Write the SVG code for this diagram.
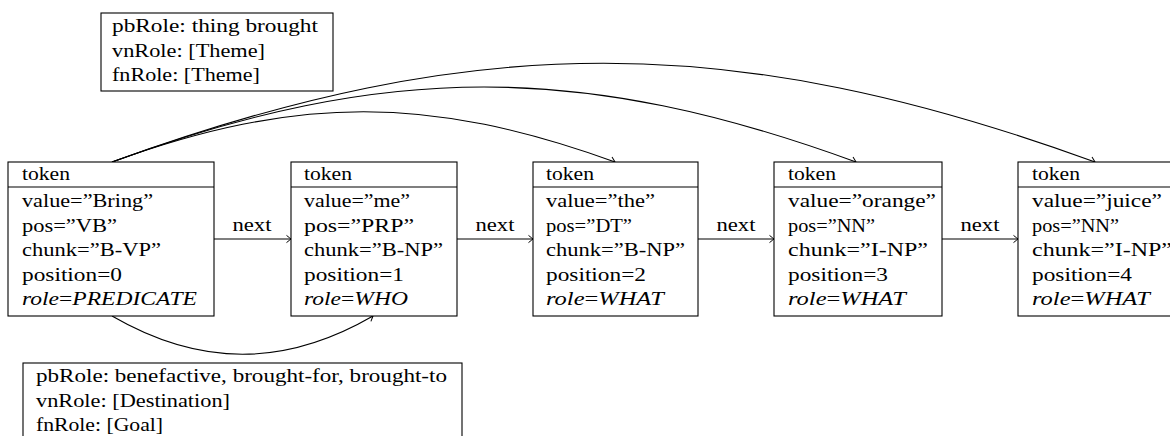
<svg xmlns="http://www.w3.org/2000/svg" width="1170" height="436" viewBox="0 0 1170 436" font-family="Liberation Serif, Times New Roman, serif" font-size="18.5">
<style>
.box{fill:#fff;stroke:#000;stroke-width:1.1}
.ln{stroke:#000;stroke-width:1.1}
.c{fill:none;stroke:#000;stroke-width:1.1;marker-end:url(#ah)}
.i{font-style:italic}
</style>
<defs>
<marker id="ah" markerUnits="userSpaceOnUse" markerWidth="12" markerHeight="12" viewBox="-6 -6 12 12" refX="0" refY="0" orient="auto">
<path d="M-4.5,-3.6 Q-1.2,-1 0,0 Q-1.2,1 -4.5,3.6" fill="none" stroke="#000" stroke-width="1"/>
</marker>
</defs>

<g id="connectors">
<path class="c" d="M112,162 C297,95 430,95 615,162"/>
<path class="c" d="M112,162 C385.6,62 582.4,62 856,162"/>
<path class="c" d="M112,162 C473.7,30.3 733.3,30.3 1095,162"/>
<path class="c" d="M112,316 C200,367 285,367 373,316"/>
<path class="c" d="M214,239 H291"/>
<path class="c" d="M457,239 H533"/>
<path class="c" d="M698,239 H774"/>
<path class="c" d="M942,239 H1018"/>
<text x="252" y="231" text-anchor="middle" textLength="39" lengthAdjust="spacingAndGlyphs">next</text>
<text x="495" y="231" text-anchor="middle" textLength="39" lengthAdjust="spacingAndGlyphs">next</text>
<text x="736" y="231" text-anchor="middle" textLength="39" lengthAdjust="spacingAndGlyphs">next</text>
<text x="980" y="231" text-anchor="middle" textLength="39" lengthAdjust="spacingAndGlyphs">next</text>
</g>

<g id="note-top">
<rect class="box" x="101" y="13" width="232" height="78"/>
<text x="112" y="32" textLength="206" lengthAdjust="spacingAndGlyphs">pbRole: thing brought</text>
<text x="112" y="56.5" textLength="153" lengthAdjust="spacingAndGlyphs">vnRole: [Theme]</text>
<text x="112" y="81" textLength="148" lengthAdjust="spacingAndGlyphs">fnRole: [Theme]</text>
</g>

<g id="note-bottom">
<rect class="box" x="23" y="363" width="439" height="90"/>
<text x="36" y="382" textLength="411" lengthAdjust="spacingAndGlyphs">pbRole: benefactive, brought-for, brought-to</text>
<text x="36" y="406.5" textLength="194" lengthAdjust="spacingAndGlyphs">vnRole: [Destination]</text>
<text x="36" y="431" textLength="127" lengthAdjust="spacingAndGlyphs">fnRole: [Goal]</text>
</g>

<g id="token0">
<rect class="box" x="8" y="162" width="206" height="154"/>
<line class="ln" x1="8" y1="187" x2="214" y2="187"/>
<text x="22" y="180" textLength="48" lengthAdjust="spacingAndGlyphs">token</text>
<text x="22" y="207" textLength="131" lengthAdjust="spacingAndGlyphs">value=”Bring”</text>
<text x="22" y="231.5" textLength="95" lengthAdjust="spacingAndGlyphs">pos=”VB”</text>
<text x="22" y="256" textLength="139" lengthAdjust="spacingAndGlyphs">chunk=”B-VP”</text>
<text x="22" y="280.5" textLength="100" lengthAdjust="spacingAndGlyphs">position=0</text>
<text x="22" y="305" textLength="175" lengthAdjust="spacingAndGlyphs"><tspan class="i">role</tspan>=<tspan class="i">PREDICATE</tspan></text>
</g>

<g id="token1">
<rect class="box" x="291" y="162" width="166" height="154"/>
<line class="ln" x1="291" y1="187" x2="457" y2="187"/>
<text x="304" y="180" textLength="48" lengthAdjust="spacingAndGlyphs">token</text>
<text x="304" y="207" textLength="106" lengthAdjust="spacingAndGlyphs">value=”me”</text>
<text x="304" y="231.5" textLength="110" lengthAdjust="spacingAndGlyphs">pos=”PRP”</text>
<text x="304" y="256" textLength="139" lengthAdjust="spacingAndGlyphs">chunk=”B-NP”</text>
<text x="304" y="280.5" textLength="100" lengthAdjust="spacingAndGlyphs">position=1</text>
<text x="304" y="305" textLength="104" lengthAdjust="spacingAndGlyphs"><tspan class="i">role</tspan>=<tspan class="i">WHO</tspan></text>
</g>

<g id="token2">
<rect class="box" x="533" y="162" width="165" height="154"/>
<line class="ln" x1="533" y1="187" x2="698" y2="187"/>
<text x="546" y="180" textLength="48" lengthAdjust="spacingAndGlyphs">token</text>
<text x="546" y="207" textLength="109" lengthAdjust="spacingAndGlyphs">value=”the”</text>
<text x="546" y="231.5" textLength="86" lengthAdjust="spacingAndGlyphs">pos=”DT”</text>
<text x="546" y="256" textLength="139" lengthAdjust="spacingAndGlyphs">chunk=”B-NP”</text>
<text x="546" y="280.5" textLength="100" lengthAdjust="spacingAndGlyphs">position=2</text>
<text x="546" y="305" textLength="118" lengthAdjust="spacingAndGlyphs"><tspan class="i">role</tspan>=<tspan class="i">WHAT</tspan></text>
</g>

<g id="token3">
<rect class="box" x="774" y="162" width="168" height="154"/>
<line class="ln" x1="774" y1="187" x2="942" y2="187"/>
<text x="788" y="180" textLength="48" lengthAdjust="spacingAndGlyphs">token</text>
<text x="788" y="207" textLength="148" lengthAdjust="spacingAndGlyphs">value=”orange”</text>
<text x="788" y="231.5" textLength="87" lengthAdjust="spacingAndGlyphs">pos=”NN”</text>
<text x="788" y="256" textLength="140" lengthAdjust="spacingAndGlyphs">chunk=”I-NP”</text>
<text x="788" y="280.5" textLength="100" lengthAdjust="spacingAndGlyphs">position=3</text>
<text x="788" y="305" textLength="118" lengthAdjust="spacingAndGlyphs"><tspan class="i">role</tspan>=<tspan class="i">WHAT</tspan></text>
</g>

<g id="token4">
<rect class="box" x="1018" y="162" width="156" height="154"/>
<line class="ln" x1="1018" y1="187" x2="1174" y2="187"/>
<text x="1032" y="180" textLength="48" lengthAdjust="spacingAndGlyphs">token</text>
<text x="1032" y="207" textLength="130" lengthAdjust="spacingAndGlyphs">value=”juice”</text>
<text x="1032" y="231.5" textLength="87" lengthAdjust="spacingAndGlyphs">pos=”NN”</text>
<text x="1032" y="256" textLength="140" lengthAdjust="spacingAndGlyphs">chunk=”I-NP”</text>
<text x="1032" y="280.5" textLength="100" lengthAdjust="spacingAndGlyphs">position=4</text>
<text x="1032" y="305" textLength="118" lengthAdjust="spacingAndGlyphs"><tspan class="i">role</tspan>=<tspan class="i">WHAT</tspan></text>
</g>
</svg>
